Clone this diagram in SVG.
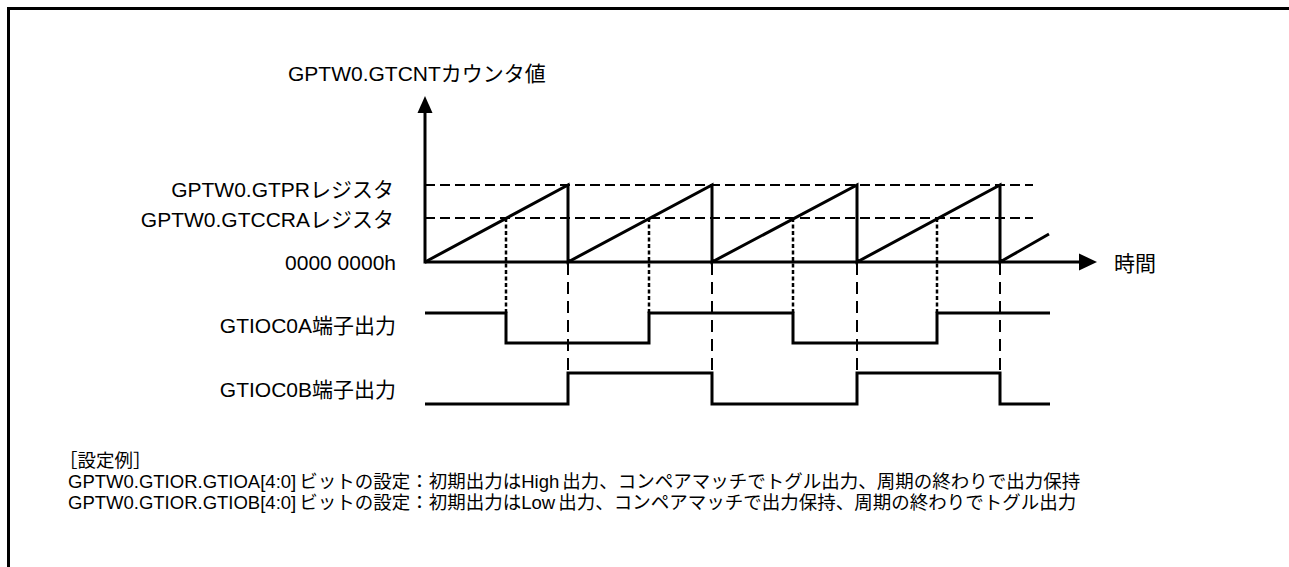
<svg xmlns="http://www.w3.org/2000/svg" width="1289" height="567" viewBox="0 0 1289 567">
<style>
.lbl{font-family:"Liberation Sans","Noto Sans CJK JP",sans-serif;font-size:21px;fill:#000}
.note{font-family:"Liberation Sans","Noto Sans CJK JP",sans-serif;font-size:18.5px;fill:#000}
.solid{fill:none;stroke:#000;stroke-width:3;stroke-linejoin:miter}
.hdash{fill:none;stroke:#000;stroke-width:2;stroke-dasharray:10 5}
.vdash{fill:none;stroke:#000;stroke-width:2;stroke-dasharray:12 7}
.vdot{fill:none;stroke:#000;stroke-width:2.5;stroke-dasharray:4 2.5}
</style>
<rect width="1289" height="567" fill="#fff"/>
<path d="M8.5,567 V8.5 H1289" fill="none" stroke="#000" stroke-width="3"/>

<g id="labels">
<text class="lbl" x="288" y="81">GPTW0.GTCNTカウンタ値</text>
<text class="lbl" x="394" y="197" text-anchor="end">GPTW0.GTPRレジスタ</text>
<text class="lbl" x="394" y="227" text-anchor="end">GPTW0.GTCCRAレジスタ</text>
<text class="lbl" x="396" y="270" text-anchor="end">0000 0000h</text>
<text class="lbl" x="396" y="333" text-anchor="end">GTIOC0A端子出力</text>
<text class="lbl" x="396" y="397" text-anchor="end">GTIOC0B端子出力</text>
<text class="lbl" x="1114" y="271">時間</text>
</g>

<g id="guides">
<path class="hdash" d="M425,185 H1033"/>
<path class="hdash" d="M425,218 H1033"/>
<path class="vdot" d="M506,218 V313 M649,218 V313 M793,218 V313 M937,218 V313"/>
<path class="vdash" d="M568,263 V372 M712,263 V372 M857,263 V372 M1000,263 V372"/>
</g>

<g id="axes">
<path class="solid" d="M425,263.5 V110"/>
<polygon points="425,96 417.5,113 432.5,113" fill="#000"/>
<path class="solid" d="M425,262 H1082"/>
<polygon points="1097,262 1079,253.5 1079,270.5" fill="#000"/>
</g>

<g id="counter">
<path class="solid" d="M425,262 L568,185 V262 L712,185 V262 L857,185 V262 L1000,185 V262 L1049,234"/>
</g>

<g id="gtioc0a">
<path class="solid" d="M425,313 H506 V343 H649 V313 H793 V343 H937 V313 H1050"/>
</g>

<g id="gtioc0b">
<path class="solid" d="M425,404 H568 V373 H712 V404 H857 V373 H1000 V404 H1050"/>
</g>

<g id="notes">
<text class="note" x="59" y="467">［設定例］</text>
<text class="note" x="68" y="488">GPTW0.GTIOR.GTIOA[4:0]<tspan dx="3">ビットの設定：初期出力はHigh</tspan><tspan dx="3">出力、コンペアマッチでトグル出力、周期の終わりで出力保持</tspan></text>
<text class="note" x="68" y="509">GPTW0.GTIOR.GTIOB[4:0]<tspan dx="3">ビットの設定：初期出力はLow</tspan><tspan dx="3">出力、コンペアマッチで出力保持、周期の終わりでトグル出力</tspan></text>
</g>
</svg>
